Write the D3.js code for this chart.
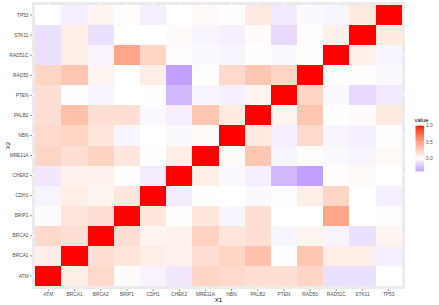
<!DOCTYPE html>
<html><head><meta charset="utf-8">
<script src="https://cdn.jsdelivr.net/npm/d3@7"></script>
<style>body{margin:0;background:#fff}svg{display:block}text{font-family:"Liberation Sans",Arial,sans-serif}</style>
</head><body><svg id="c" width="439" height="305"></svg>
<script>
const genes = ["ATM","BRCA1","BRCA2","BRIP1","CDH1","CHEK2","MRE11A","NBN","PALB2","PTEN","RAD50","RAD51C","STK11","TP53"];
const corrRows = [
  [1, 0.09, 0.20, 0.02, -0.05, -0.10, 0.22, 0.20, 0.17, 0.17, 0.22, -0.13, -0.13, 0.00],
  [0.09, 1, 0.17, 0.14, 0.09, 0.07, 0.17, 0.22, 0.33, -0.01, 0.30, 0.09, 0.09, -0.065],
  [0.20, 0.17, 1, 0.17, 0.055, 0.07, 0.24, 0.14, 0.17, -0.04, 0.055, -0.05, -0.13, 0.055],
  [0.02, 0.14, 0.17, 1, 0.13, 0.01, 0.13, -0.04, 0.17, 0.00, 0.00, 0.47, 0.00, 0.01],
  [-0.05, 0.09, 0.055, 0.13, 1, -0.08, -0.01, 0.00, -0.025, 0.005, 0.09, 0.22, 0.00, -0.065],
  [-0.10, 0.07, 0.07, 0.01, -0.08, 1, 0.09, -0.025, -0.065, -0.30, -0.40, 0.01, 0.03, 0.00],
  [0.22, 0.17, 0.24, 0.13, -0.01, 0.09, 1, 0.03, 0.30, -0.04, 0.01, -0.025, -0.04, 0.03],
  [0.20, 0.22, 0.14, -0.04, 0.00, -0.025, 0.03, 1, 0.11, -0.065, 0.20, -0.04, -0.065, -0.01],
  [0.17, 0.33, 0.17, 0.17, -0.025, -0.065, 0.30, 0.11, 1, 0.055, 0.30, -0.01, 0.02, 0.11],
  [0.17, -0.01, -0.04, 0.00, 0.005, -0.30, -0.04, -0.065, 0.055, 1, 0.22, -0.025, -0.16, -0.09],
  [0.22, 0.30, 0.055, 0.00, 0.09, -0.40, 0.01, 0.20, 0.30, 0.22, 1, 0.01, 0.01, -0.025],
  [-0.13, 0.09, -0.05, 0.47, 0.22, 0.01, -0.025, -0.04, -0.01, -0.025, 0.01, 1, 0.08, -0.04],
  [-0.13, 0.09, -0.13, 0.00, 0.00, 0.03, -0.04, -0.065, 0.02, -0.16, 0.01, 0.08, 1, 0.11],
  [0.00, -0.065, 0.055, 0.01, -0.065, 0.00, 0.03, -0.01, 0.11, -0.09, -0.025, -0.04, 0.11, 1]
];
const legendBreaks = [0.0, 0.5, 1.0];

const svg = d3.select("#c");
const panel = {x0: 32, x1: 405, y0: 2, y1: 289};
const x = d3.scaleBand().domain(genes).range([35.3, 401.7]).padding(0);
const y = d3.scaleBand().domain(genes.slice().reverse()).range([5, 286]).padding(0);

const allVals = corrRows.flat();
const vmin = d3.min(allVals), vmax = d3.max(allVals);
const maxAbs = Math.max(Math.abs(vmin), Math.abs(vmax));
const toRed = d3.interpolateLab("#ffffff", "#ff0000");
const toBlue = d3.interpolateLab("#ffffff", "#0000ff");
const color = v => v >= 0 ? toRed(v / maxAbs) : toBlue(-v / maxAbs);

// panel background
svg.append("rect").attr("x", panel.x0).attr("y", panel.y0)
  .attr("width", panel.x1 - panel.x0).attr("height", panel.y1 - panel.y0).attr("fill", "#ebebeb");
// grid
svg.append("g").selectAll("line").data(genes).join("line")
  .attr("x1", d => x(d) + x.bandwidth()/2).attr("x2", d => x(d) + x.bandwidth()/2)
  .attr("y1", panel.y0).attr("y2", panel.y1).attr("stroke", "#fff").attr("stroke-width", 0.8);
svg.append("g").selectAll("line").data(genes).join("line")
  .attr("y1", d => y(d) + y.bandwidth()/2).attr("y2", d => y(d) + y.bandwidth()/2)
  .attr("x1", panel.x0).attr("x2", panel.x1).attr("stroke", "#fff").attr("stroke-width", 0.8);

const cells = [];
corrRows.forEach((row, i) => row.forEach((v, j) => cells.push({r: genes[i], c: genes[j], v})));
svg.append("g").selectAll("rect").data(cells).join("rect")
  .attr("x", d => x(d.c)).attr("y", d => y(d.r))
  .attr("width", x.bandwidth()).attr("height", y.bandwidth())
  .attr("fill", d => color(d.v)).attr("shape-rendering", "crispEdges");

// axes
const xAxis = d3.axisBottom(x).tickSize(2).tickPadding(1.5);
const gx = svg.append("g").attr("transform", `translate(0,${panel.y1})`).call(xAxis);
gx.select(".domain").remove();
gx.selectAll("line").attr("stroke", "#333").attr("stroke-width", 0.5);
gx.selectAll("text").attr("fill", "#4d4d4d").attr("font-size", 4.8);

const yAxis = d3.axisLeft(y).tickSize(2).tickPadding(1.5);
const gy = svg.append("g").attr("transform", `translate(${panel.x0},0)`).call(yAxis);
gy.select(".domain").remove();
gy.selectAll("line").attr("stroke", "#333").attr("stroke-width", 0.5);
gy.selectAll("text").attr("fill", "#4d4d4d").attr("font-size", 4.8);

svg.append("text").attr("x", (panel.x0 + panel.x1)/2).attr("y", 302)
  .attr("text-anchor", "middle").attr("font-size", 6).attr("fill", "#000").text("X1");
svg.append("text").attr("transform", `translate(9.5,${(panel.y0 + panel.y1)/2}) rotate(-90)`)
  .attr("text-anchor", "middle").attr("font-size", 6).attr("fill", "#000").text("X2");

// legend
const lg = {x: 415.5, w: 8.5};
const ly = d3.scaleLinear().domain([0, 1]).range([158.3, 125.7]);
const defs = svg.append("defs");
const grad = defs.append("linearGradient").attr("id", "lgrad")
  .attr("x1", 0).attr("y1", 1).attr("x2", 0).attr("y2", 0);
d3.range(0, 1.0001, 0.02).forEach(t => {
  const v = vmin + t * (vmax - vmin);
  grad.append("stop").attr("offset", t).attr("stop-color", color(v));
});
svg.append("rect").attr("x", lg.x).attr("y", ly(vmax)).attr("width", lg.w)
  .attr("height", ly(vmin) - ly(vmax)).attr("fill", "url(#lgrad)");
legendBreaks.forEach(b => {
  svg.append("line").attr("x1", lg.x).attr("x2", lg.x + 1.7).attr("y1", ly(b)).attr("y2", ly(b))
    .attr("stroke", "#fff").attr("stroke-width", 0.5);
  svg.append("line").attr("x1", lg.x + lg.w - 1.7).attr("x2", lg.x + lg.w).attr("y1", ly(b)).attr("y2", ly(b))
    .attr("stroke", "#fff").attr("stroke-width", 0.5);
  svg.append("text").attr("x", lg.x + lg.w + 2).attr("y", ly(b)).attr("dy", "0.35em")
    .attr("font-size", 4.8).attr("fill", "#4d4d4d").text(d3.format(".1f")(b));
});
svg.append("text").attr("x", lg.x - 1).attr("y", 121.5).attr("font-size", 5.8).attr("fill", "#000").text("value");
</script></body></html>
